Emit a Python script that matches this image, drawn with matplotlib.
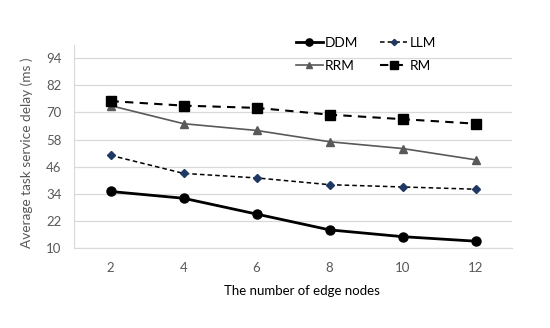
import matplotlib.pyplot as plt

nodes = [2, 4, 6, 8, 10, 12]
ddm = [35, 32, 25, 18, 15, 13]
llm = [51, 43, 41, 38, 37, 36]
rrm = [73, 65, 62, 57, 54, 49]
rm = [75, 73, 72, 69, 67, 65]
yticks = [10, 22, 34, 46, 58, 70, 82, 94]

plt.rcParams['font.family'] = ['Lato', 'DejaVu Sans']

fig = plt.figure(figsize=(5.5, 3.28), dpi=100)
ax = fig.add_axes([0.1345, 0.244, 0.797, 0.62])

l1, = ax.plot(nodes, ddm, color='black', lw=2.0, marker='o', ms=6.5, label='DDM')
l2, = ax.plot(nodes, llm, color='black', lw=1.1, ls=(0, (3, 2)), marker='D', ms=4,
              mfc='#1f3864', mec='#1f3864', label='LLM')
l3, = ax.plot(nodes, rrm, color='#595959', lw=1.2, marker='^', ms=6, label='RRM')
l4, = ax.plot(nodes, rm, color='black', lw=1.5, ls=(0, (4, 3)), marker='s', ms=6.5, label='RM')

ax.set_xlim(1, 13)
ax.set_ylim(10, 100)
ax.set_xticks(nodes)
ax.set_yticks(yticks)
ax.grid(axis='y', color='#d9d9d9', lw=0.9)
ax.set_axisbelow(True)
for s in ['top', 'right']:
    ax.spines[s].set_visible(False)
ax.spines['left'].set_color('#d9d9d9')
ax.spines['bottom'].set_color('#d9d9d9')
ax.tick_params(length=0, labelsize=9.5, colors='#595959', pad=9)
ax.tick_params(axis='x', pad=10)

ax.set_xlabel('The number of edge nodes', fontsize=9.5)
ax.xaxis.set_label_coords(0.52, -0.18)
ax.set_ylabel('Average task service delay (ms )', fontsize=9.8, color='#595959')
ax.yaxis.set_label_coords(-0.093, 0.47)

# column-wise fill so rows read DDM, LLM / RRM, RM
leg = ax.legend([l1, l3, l2, l4], ['DDM', 'RRM', 'LLM', 'RM'], ncol=2, loc='upper left',
                bbox_to_anchor=(0.478, 1.1), frameon=False, fontsize=9.8,
                handlelength=2.0, columnspacing=1.6, labelspacing=0.85,
                handletextpad=0.15, markerscale=0.8)

fig.savefig('out.png')
